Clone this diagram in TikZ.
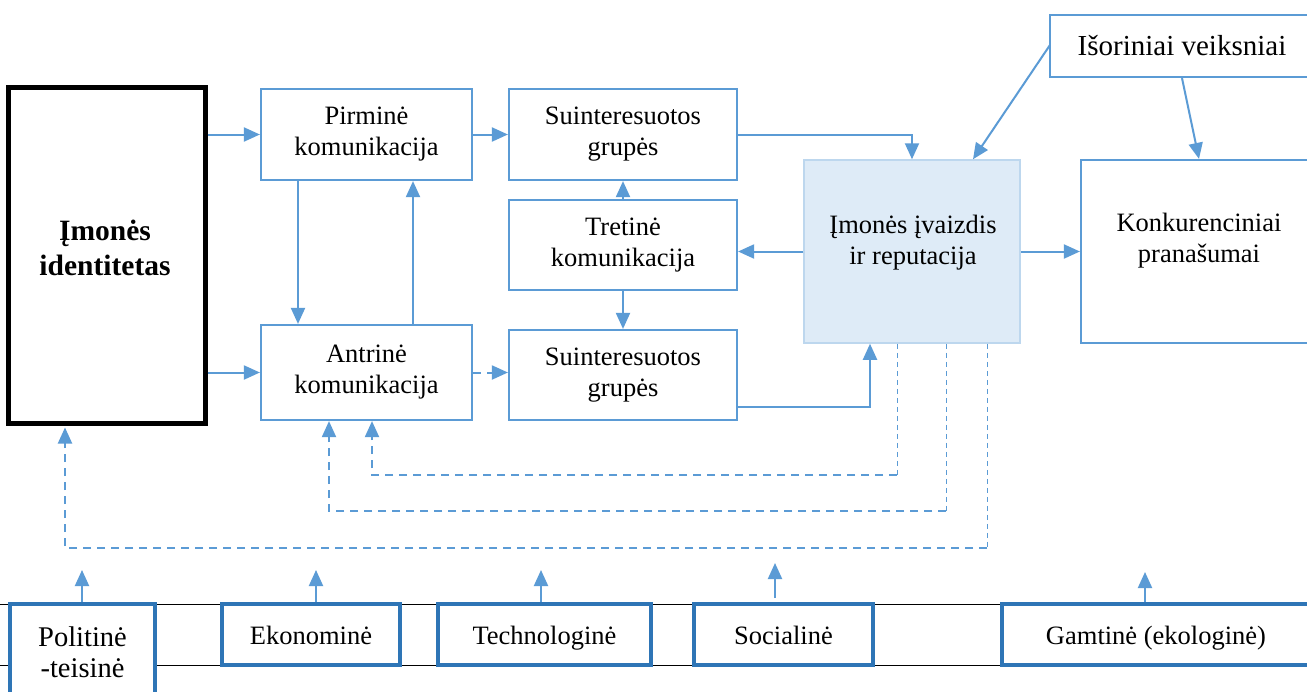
\documentclass[tikz,border=0pt]{standalone}
\usepackage{fontspec}
\setmainfont{Liberation Serif}
\usetikzlibrary{arrows.meta,calc}
\definecolor{ablue}{HTML}{5B9BD5}
\definecolor{dblue}{HTML}{2E75B6}
\definecolor{vfill}{HTML}{DEEBF7}
\definecolor{vline}{HTML}{BDD7EE}
\begin{document}
\begin{tikzpicture}[x=1pt,y=-1pt,
  txt/.style={align=center,inner sep=0pt,font=\fontsize{26.5}{31}\selectfont},
  box/.style={txt,draw=ablue,line width=2.2pt,fill=white},
  idbox/.style={draw=black,line width=5pt,fill=white,inner sep=0pt,align=center,font=\fontsize{29}{35}\selectfont\bfseries},
  vizbox/.style={draw=vline,line width=1.5pt,fill=vfill,inner sep=0pt},
  envbox/.style={txt,draw=dblue,line width=3.5pt,fill=white},
  envone/.style={envbox,text height=19pt,text depth=0pt},
  arr/.style={draw=ablue,line width=2pt,-{Triangle[length=16pt,width=14pt]}},
  dasharr/.style={arr,dash pattern=on 8pt off 6pt},
  thindash/.style={draw=ablue,line width=1pt,dash pattern=on 5pt off 4pt},
  thickdash/.style={draw=ablue,line width=2pt,dash pattern=on 8pt off 6pt,-{Triangle[length=16pt,width=14pt]}},
  baseline]
\useasboundingbox (0,0) rectangle (1307,691);
\fill[white] (0,0) rectangle (1307,691);

% bottom horizontal lines
\draw[black,line width=1pt] (0,604) -- (1307,604);
\draw[black,line width=1pt] (0,665) -- (1307,665);

% main nodes
\node[idbox,minimum width=197pt,minimum height=336pt] (id) at (106.5,255) {};
\node[txt,font=\fontsize{29.5}{35}\selectfont\bfseries] (idt) at (105,248) {Įmonės\\identitetas};

\node[box,minimum width=211pt,minimum height=91pt] (pir) at (366.5,134.5) {Pirminė\\komunikacija};
\node[box,minimum width=211pt,minimum height=95pt] (ant) at (366.5,372.5) {Antrinė\\komunikacija};
\node[box,minimum width=228pt,minimum height=91pt] (s1) at (623,134.5) {Suinteresuotos\\grupės};
\node[box,minimum width=228pt,minimum height=90pt] (tre) at (623,245) {Tretinė\\komunikacija};
\node[box,minimum width=228pt,minimum height=90pt] (s2) at (623,375) {Suinteresuotos\\grupės};

\node[vizbox,minimum width=216pt,minimum height=183pt] (viz) at (912,251.5) {};
\node[txt] (vizt) at (913,243) {Įmonės įvaizdis\\ir reputacija};

\node[box,minimum width=236pt,minimum height=183pt] (kon) at (1199,251.5) {};
\node[txt] (kont) at (1199,241) {Konkurenciniai\\pranašumai};

\node[box,minimum width=264pt,minimum height=62pt,font=\fontsize{29}{33}\selectfont] (isv) at (1182,46) {Išoriniai veiksniai};

% environment boxes
\node[envbox,minimum width=145pt,minimum height=96pt,font=\fontsize{28.5}{31}\selectfont] (pol) at (82.5,652) {Politinė\\-teisinė};
\node[envone,minimum width=178pt,minimum height=61pt] (eko) at (311,634.5) {Ekonominė};
\node[envone,minimum width=213pt,minimum height=61pt] (tech) at (544.5,634.5) {Technologinė};
\node[envone,minimum width=179pt,minimum height=61pt] (soc) at (783.5,634.5) {Socialinė};
\node[envone,minimum width=308pt,minimum height=61pt] (gam) at (1156,634.5) {Gamtinė (ekologinė)};

% coordinates for connector geometry
\coordinate (xa) at (298,0);
\coordinate (xb) at (413,0);
\coordinate (s2out) at (737,407);
\coordinate (s2up) at (870,407);
\coordinate (isvout) at (1050,45);
\coordinate (vizin) at (973,0);
\coordinate (d1) at (897,475);
\coordinate (d1e) at (372,475);
\coordinate (d2) at (946,511);
\coordinate (d2e) at (329,511);
\coordinate (d3) at (987,548);
\coordinate (d3e) at (65,548);
\coordinate (polA) at (82,570);
\coordinate (ekoA) at (316,570);
\coordinate (techA) at (541,570);
\coordinate (socA) at (775,563);
\coordinate (socB) at (775,598);
\coordinate (gamA) at (1145,572);

% solid connectors
\draw[arr] (id.east |- pir.west) -- (pir.west);
\draw[arr] (id.east |- ant.west) -- (ant.west);
\draw[arr] (pir.east) -- (s1.west);
\draw[dasharr] (ant.east) -- (ant.east -| s2.west);
\draw[arr] (pir.south -| xa) -- (ant.north -| xa);
\draw[arr] (ant.north -| xb) -- (pir.south -| xb);
\draw[arr] (tre.north) -- (s1.south);
\draw[arr] (tre.south) -- (s2.north);
\draw[arr] (viz.west) -- (viz.west -| tre.east);
\draw[arr] (viz.east) -- (kon.west);
\draw[arr] (s1.east) -| (viz.north);
\draw[arr] (s2out) -- (s2up) -- (viz.south -| s2up);
\draw[arr] (isvout) -- (viz.north -| vizin);
\draw[arr] (isv.south) -- (kon.north);

% dashed feedback connectors
\draw[thindash] (viz.south -| d1) -- (d1);
\draw[thickdash] (d1) -- (d1e) -- (ant.south -| d1e);
\draw[thindash] (viz.south -| d2) -- (d2);
\draw[thickdash] (d2) -- (d2e) -- (ant.south -| d2e);
\draw[thindash] (viz.south -| d3) -- (d3);
\draw[thickdash] (d3) -- (d3e) -- ([yshift=-2pt]id.south -| d3e);

% environment arrows
\draw[arr] (pol.north -| polA) -- (polA);
\draw[arr] (eko.north -| ekoA) -- (ekoA);
\draw[arr] (tech.north -| techA) -- (techA);
\draw[arr] (socB) -- (socA);
\draw[arr] (gam.north -| gamA) -- (gamA);
\end{tikzpicture}
\end{document}
